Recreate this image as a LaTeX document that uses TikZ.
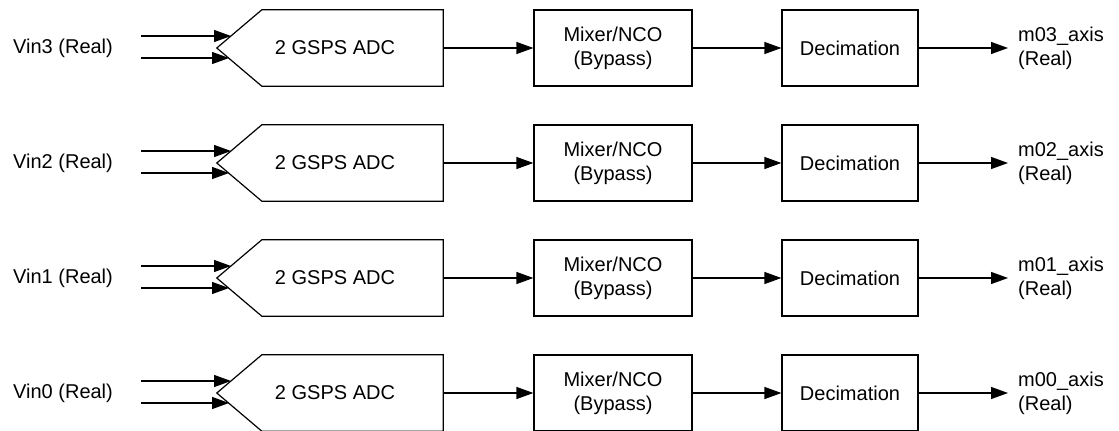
\documentclass[tikz,border=0pt]{standalone}
\usepackage{fontspec}
\setmainfont{Liberation Sans}
\usetikzlibrary{arrows.meta}
\tikzset{
  blk/.style={draw,line width=1.2pt,minimum height=76pt,align=center,inner sep=0pt},
  sig/.style={-{Triangle[length=17pt,width=12pt]},line width=1.2pt},
  lbl/.style={inner sep=0pt,align=left,anchor=west}
}
\begin{document}
\begin{tikzpicture}[x=1pt,y=-1pt,font=\fontsize{20}{24}\selectfont]
\useasboundingbox (0,0) rectangle (1119,431);
\foreach \n [count=\r from 0] in {3,2,1,0}{
  \pgfmathsetmacro\yy{48+115*\r}
  \node[lbl] (vin\n) at (13,\yy) {Vin\n{} (Real)};
  % converter body
  \node[minimum width=226pt,minimum height=76pt,inner sep=0pt] (adc\n) at (330,\yy) {\hspace*{10pt}2 GSPS ADC};
  \draw[line width=1.2pt] (adc\n.west) -- ([xshift=45pt]adc\n.north west) -- (adc\n.north east)
    -- (adc\n.south east) -- ([xshift=45pt]adc\n.south west) -- cycle;
  \node[blk,minimum width=158pt] (mix\n) at (613,\yy) {Mixer/NCO\\(Bypass)};
  \node[blk,minimum width=136pt] (dec\n) at (850,\yy) {Decimation};
  \node[lbl] (axis\n) at (1018,\yy) {m0\n\_axis\\(Real)};
  % inputs and outputs
  \coordinate (ina\n) at (141,\yy-12);
  \coordinate (inb\n) at (141,\yy+10);
  \coordinate (tipa\n) at (231,\yy-12);
  \coordinate (tipb\n) at (229,\yy+10);
  \coordinate (out\n) at (1008,\yy);
  \draw[sig] (ina\n) -- (tipa\n);
  \draw[sig] (inb\n) -- (tipb\n);
  \draw[sig] (adc\n) -- (mix\n);
  \draw[sig] (mix\n) -- (dec\n);
  \draw[sig] (dec\n) -- (out\n);
}
\end{tikzpicture}
\end{document}
